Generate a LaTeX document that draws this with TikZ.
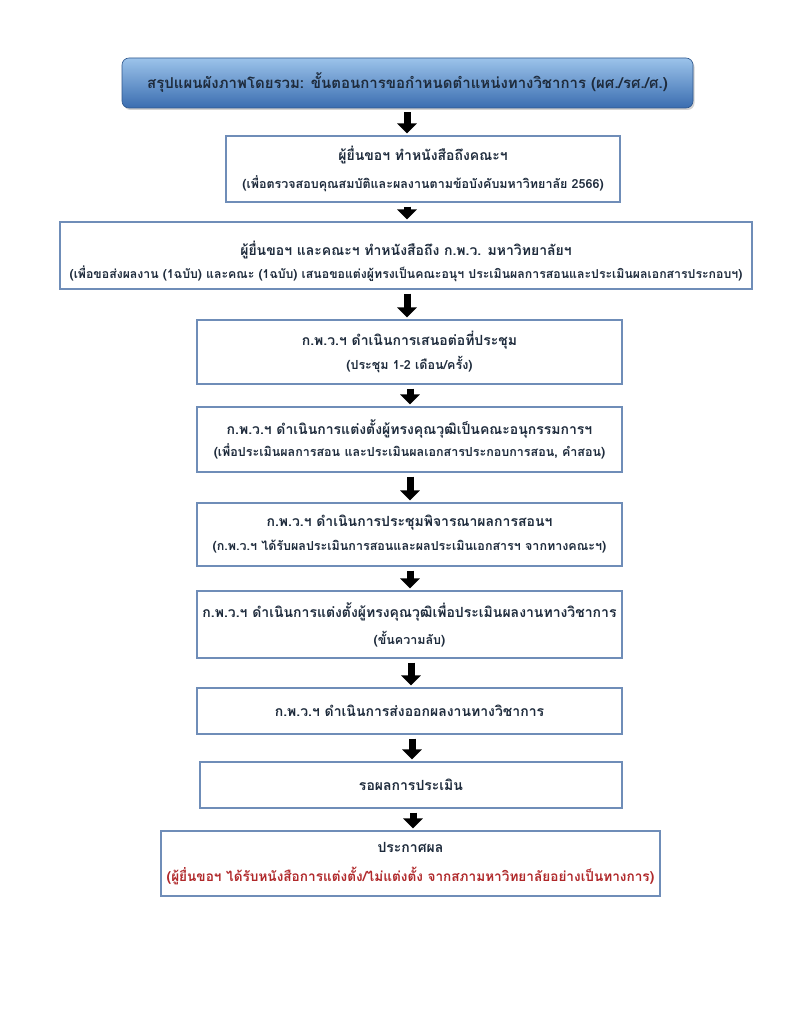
\documentclass[tikz,border=0pt]{standalone}
\usepackage{fontspec}
\setmainfont[Script=Thai]{Loma}
\usetikzlibrary{arrows.meta,shadows}
\definecolor{boxline}{HTML}{6F8DB8}
\definecolor{txt}{HTML}{1E2B3C}
\definecolor{redtxt}{HTML}{B0282A}
\definecolor{ttop}{HTML}{9CC3EA}
\definecolor{tbot}{HTML}{3A6DB0}
\tikzset{
  stepbox/.style={draw=boxline, line width=1.1pt, fill=white, align=center, inner sep=0pt,
    font=\bfseries\color{txt}},
  titlebox/.style={rounded corners=7pt, top color=ttop, bottom color=tbot, draw=tbot!80!black, line width=0.6pt,
    drop shadow={shadow xshift=1.5pt, shadow yshift=-2pt, opacity=0.35},
    font=\fontsize{15}{18}\selectfont\bfseries\color{txt}, inner sep=0pt},
  flow/.style={line width=7pt, black, -{Triangle[width=19pt,length=10pt]}, shorten <=4pt, shorten >=2pt},
}
\newcommand{\lone}[1]{{\fontsize{14}{16}\selectfont #1}}
\newcommand{\ltwo}[1]{{\fontsize{12.5}{14}\selectfont #1}}
\begin{document}
\begin{tikzpicture}[x=1pt,y=-1pt]
\useasboundingbox[fill=white] (0,0) rectangle (791,1024);
\node[titlebox, minimum width=571pt, minimum height=50pt] (t) at (407.5,83) {สรุปแผนผังภาพโดยรวม: ขั้นตอนการขอกำหนดตำแหน่งทางวิชาการ (ผศ./รศ./ศ.)};
\node[stepbox, minimum width=394pt, minimum height=66pt] (b1) at (423,169)
  {\lone{ผู้ยื่นขอฯ ทำหนังสือถึงคณะฯ}\\[11pt]\ltwo{(เพื่อตรวจสอบคุณสมบัติและผลงานตามข้อบังคับมหาวิทยาลัย 2566)}};
\node[stepbox, minimum width=692pt, minimum height=67pt] (b2) at (406,255.5)
  {\rule{0pt}{26pt}\lone{ผู้ยื่นขอฯ และคณะฯ ทำหนังสือถึง ก.พ.ว. มหาวิทยาลัยฯ}\\[6pt]{\fontsize{12.3}{14}\selectfont (เพื่อขอส่งผลงาน (1ฉบับ) และคณะ (1ฉบับ) เสนอขอแต่งผู้ทรงเป็นคณะอนุฯ ประเมินผลการสอนและประเมินผลเอกสารประกอบฯ)}};
\node[stepbox, minimum width=425pt, minimum height=64pt] (b3) at (409.5,352)
  {\lone{ก.พ.ว.ฯ ดำเนินการเสนอต่อที่ประชุม}\\[6pt]\ltwo{(ประชุม 1-2 เดือน/ครั้ง)}};
\node[stepbox, minimum width=425pt, minimum height=65pt] (b4) at (409.5,439.5)
  {\lone{ก.พ.ว.ฯ ดำเนินการแต่งตั้งผู้ทรงคุณวุฒิเป็นคณะอนุกรรมการฯ}\\[5pt]\ltwo{(เพื่อประเมินผลการสอน และประเมินผลเอกสารประกอบการสอน, คำสอน)}};
\node[stepbox, minimum width=425pt, minimum height=63pt] (b5) at (409.5,534.5)
  {\lone{ก.พ.ว.ฯ ดำเนินการประชุมพิจารณาผลการสอนฯ}\\[9pt]\ltwo{(ก.พ.ว.ฯ ได้รับผลประเมินการสอนและผลประเมินเอกสารฯ จากทางคณะฯ)}};
\node[stepbox, minimum width=425pt, minimum height=67pt] (b6) at (409.5,624.5)
  {\lone{ก.พ.ว.ฯ ดำเนินการแต่งตั้งผู้ทรงคุณวุฒิเพื่อประเมินผลงานทางวิชาการ}\\[9pt]\ltwo{(ขั้นความลับ)}};
\node[stepbox, minimum width=425pt, minimum height=46pt] (b7) at (409.5,711)
  {\lone{ก.พ.ว.ฯ ดำเนินการส่งออกผลงานทางวิชาการ}};
\node[stepbox, minimum width=422pt, minimum height=46pt] (b8) at (411,785)
  {\lone{รอผลการประเมิน}};
\node[stepbox, minimum width=499pt, minimum height=65pt] (b9) at (410.5,863.5)
  {\lone{ประกาศผล}\\[14pt]{\color{redtxt}\fontsize{13.6}{16}\selectfont (ผู้ยื่นขอฯ ได้รับหนังสือการแต่งตั้ง/ไม่แต่งตั้ง จากสภามหาวิทยาลัยอย่างเป็นทางการ)}};
\coordinate (x1) at (407,0);
\coordinate (x2) at (407,0);
\coordinate (x3) at (407,0);
\coordinate (x4) at (410,0);
\coordinate (x5) at (410,0);
\coordinate (x6) at (410,0);
\coordinate (x7) at (411,0);
\coordinate (x8) at (412,0);
\coordinate (x9) at (413,0);
\draw[flow] (t.south -| x1) -- (b1.north -| x1);
\draw[flow] (b1.south -| x2) -- (b2.north -| x2);
\draw[flow] (b2.south -| x3) -- (b3.north -| x3);
\draw[flow] (b3.south -| x4) -- (b4.north -| x4);
\draw[flow] (b4.south -| x5) -- (b5.north -| x5);
\draw[flow] (b5.south -| x6) -- (b6.north -| x6);
\draw[flow] (b6.south -| x7) -- (b7.north -| x7);
\draw[flow] (b7.south -| x8) -- (b8.north -| x8);
\draw[flow] (b8.south -| x9) -- (b9.north -| x9);
\end{tikzpicture}
\end{document}
